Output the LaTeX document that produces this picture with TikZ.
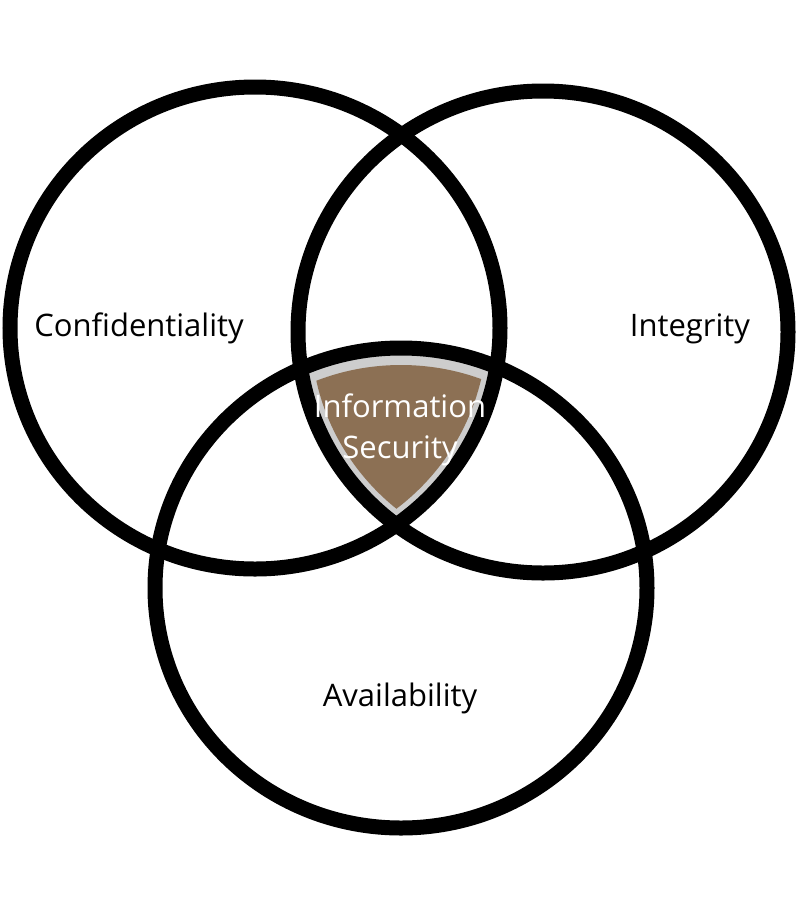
\documentclass[tikz,border=0pt]{standalone}
\usepackage{fontspec}
\setmainfont{Open Sans}
\definecolor{brownfill}{RGB}{140,112,84}
\definecolor{greyband}{RGB}{205,205,205}
\tikzset{
  ring/.style={draw=black, line width=15pt},
  lbl/.style={anchor=base, inner sep=0pt, font=\fontsize{31}{37}\selectfont, text=black},
  wlbl/.style={lbl, text=white}
}
\begin{document}
\begin{tikzpicture}[x=1pt,y=-1pt]
\useasboundingbox (0,0) rectangle (800,911);
\fill[white] (0,0) rectangle (800,911);
\coordinate (L) at (255,328);
\coordinate (R) at (543,332);
\coordinate (B) at (401,588);
% grey band of the central region
\begin{scope}
  \clip (L) ellipse [x radius=245, y radius=241];
  \clip (R) ellipse [x radius=245, y radius=241];
  \fill[greyband] (B) ellipse [x radius=246, y radius=240];
\end{scope}
% brown core
\begin{scope}
  \clip (L) ellipse [x radius=232, y radius=228];
  \clip (R) ellipse [x radius=232, y radius=228];
  \fill[brownfill] (B) ellipse [x radius=229, y radius=223];
\end{scope}
% rings
\draw[ring] (L) ellipse [x radius=245, y radius=241];
\draw[ring] (R) ellipse [x radius=245, y radius=241];
\draw[ring] (B) ellipse [x radius=246, y radius=240];
% labels
\node[lbl] (conf) at (139,336) {Confidentiality};
\node[lbl] (integ) at (690,336) {Integrity};
\node[lbl] (avail) at (400,706) {Availability};
\node[wlbl] (info) at (400,417) {Information};
\node[wlbl] (sec) at (400,458) {Security};
\end{tikzpicture}
\end{document}
